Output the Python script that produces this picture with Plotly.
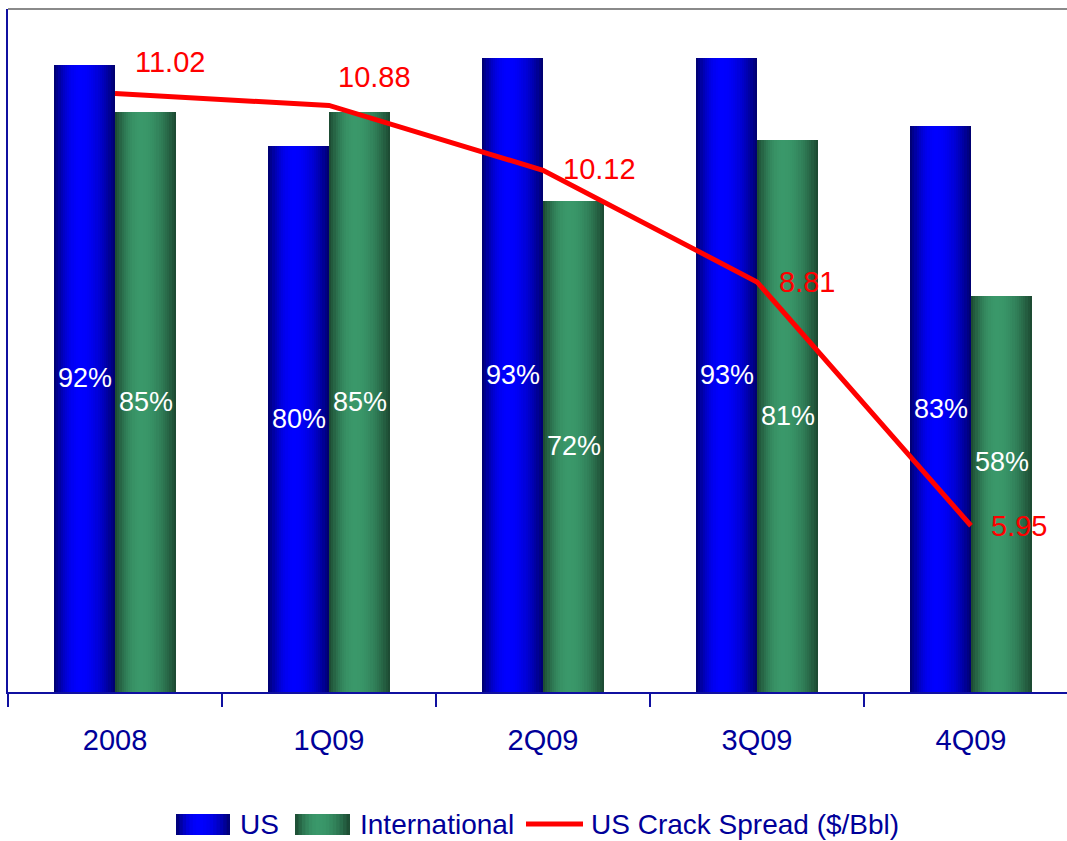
import plotly.graph_objects as go

# Refinery utilisation by period and the US crack spread
categories = ["2008", "1Q09", "2Q09", "3Q09", "4Q09"]
us_util = [92, 80, 93, 93, 83]
intl_util = [85, 85, 72, 81, 58]
crack_spread = [11.02, 10.88, 10.12, 8.81, 5.95]

W, H = 1067, 841
M_L, M_R, M_T, M_B = 8, 0, 9, 149
PLOT_W = W - M_L - M_R
PLOT_H = H - M_T - M_B

BAR_W = 0.285
N_SLICES = 28
AXIS_COLOR = "#1010a0"
TEXT_COLOR = "#000099"
FONT = "Arial, Liberation Sans, sans-serif"

BLUE_DARK, BLUE_BRIGHT = (0, 0, 105), (0, 0, 255)
GREEN_DARK, GREEN_BRIGHT = (27, 70, 47), (58, 152, 106)


def shade(dark, bright, t, peak=0.42):
    span = peak if t <= peak else 1 - peak
    f = max(0.0, 1 - ((t - peak) / span) ** 2)
    return "rgb({},{},{})".format(*[round(d + (b - d) * f) for d, b in zip(dark, bright)])


fig = go.Figure()


def gradient_bars(values, base_offset, dark, bright, name):
    # overlapping slices, each reaching the right edge, so no seams appear
    step = BAR_W / N_SLICES
    for i in range(N_SLICES):
        t = (i + 0.5) / N_SLICES
        fig.add_trace(go.Bar(
            x=categories, y=values, name=name,
            offset=base_offset + i * step, width=BAR_W - i * step,
            marker=dict(color=shade(dark, bright, t), line=dict(width=0)),
            showlegend=False, hoverinfo="skip" if i else "x+y",
        ))


gradient_bars(us_util, -BAR_W, BLUE_DARK, BLUE_BRIGHT, "US")
gradient_bars(intl_util, 0.0, GREEN_DARK, GREEN_BRIGHT, "International")

fig.add_trace(go.Scatter(
    x=categories, y=crack_spread, yaxis="y2", mode="lines",
    name="US Crack Spread ($/Bbl)",
    line=dict(color="#ff0000", width=5),
    showlegend=False,
))

annotations = []

# percentage labels in the middle of each bar
us_label_shift = [0, 0, 0, 0, 0]
intl_label_shift = [0, 0, 0, 0, 32]
for values, centre, shifts in [(us_util, -BAR_W / 2, us_label_shift),
                               (intl_util, BAR_W / 2, intl_label_shift)]:
    for i, (v, dy) in enumerate(zip(values, shifts)):
        annotations.append(dict(
            x=i + centre, y=v / 2, xref="x", yref="y", text=f"{v}%",
            showarrow=False, xanchor="center", yanchor="middle", yshift=dy,
            font=dict(family=FONT, size=27, color="white"),
        ))

# value labels for the crack spread line
label_shift = [(18, 32), (7, 28), (18, 1), (20, 0), (18, 0)]
for i, (val, (dx, dy)) in enumerate(zip(crack_spread, label_shift)):
    annotations.append(dict(
        x=i, y=val, xref="x", yref="y2", text=f"{val:.2f}",
        showarrow=False, xanchor="left", yanchor="middle",
        xshift=dx, yshift=dy,
        font=dict(family=FONT, size=29, color="#ff0000"),
    ))


def px_x(px):
    return (px - M_L) / PLOT_W


def px_y(py):
    return (H - M_B - py) / PLOT_H


shapes = [dict(
    type="line", xref="paper", yref="paper", x0=0, x1=1, y0=1, y1=1,
    line=dict(color="#8a8a8a", width=2), layer="above",
)]

# legend drawn below the axis
LEG_Y0, LEG_Y1 = 814, 835


def legend_swatch(x0, x1, dark, bright):
    n = 16
    step = (x1 - x0) / n
    for i in range(n):
        t = (i + 0.5) / n
        shapes.append(dict(
            type="rect", xref="paper", yref="paper",
            x0=px_x(x0 + i * step), x1=px_x(x1),
            y0=px_y(LEG_Y1), y1=px_y(LEG_Y0),
            fillcolor=shade(dark, bright, t), line=dict(width=0), layer="above",
        ))


legend_swatch(176, 230, BLUE_DARK, BLUE_BRIGHT)
legend_swatch(295, 350, GREEN_DARK, GREEN_BRIGHT)
shapes.append(dict(
    type="line", xref="paper", yref="paper",
    x0=px_x(526), x1=px_x(583), y0=px_y(824), y1=px_y(824),
    line=dict(color="#ff0000", width=5), layer="above",
))

for label, left in [("US", 238), ("International", 358), ("US Crack Spread ($/Bbl)", 589)]:
    annotations.append(dict(
        x=px_x(left), y=px_y(824), xref="paper", yref="paper",
        text=label, showarrow=False, xanchor="left", yanchor="middle",
        font=dict(family=FONT, size=28, color=TEXT_COLOR),
    ))

fig.update_layout(
    width=W, height=H,
    margin=dict(l=M_L, r=M_R, t=M_T, b=M_B, pad=0),
    paper_bgcolor="white", plot_bgcolor="white",
    barmode="overlay", bargap=0,
    showlegend=False,
    xaxis=dict(
        type="category", range=[-0.5, -0.5 + PLOT_W / 214],
        showline=True, linecolor=AXIS_COLOR, linewidth=2,
        ticks="outside", tickson="boundaries", ticklen=13,
        tickcolor=AXIS_COLOR, tickwidth=2,
        tickfont=dict(family=FONT, size=29, color=TEXT_COLOR),
        ticklabelstandoff=21,
        showgrid=False, zeroline=False, fixedrange=True,
    ),
    yaxis=dict(
        range=[0, 100 * PLOT_H / 682], showline=True, linecolor=AXIS_COLOR, linewidth=2,
        showticklabels=False, ticks="", showgrid=False, zeroline=False,
    ),
    yaxis2=dict(
        range=[4, 4 + 8 * PLOT_H / 682], overlaying="y", side="right", visible=False,
        showgrid=False, zeroline=False,
    ),
    shapes=shapes,
    annotations=annotations,
)

fig.write_html("out.html")
